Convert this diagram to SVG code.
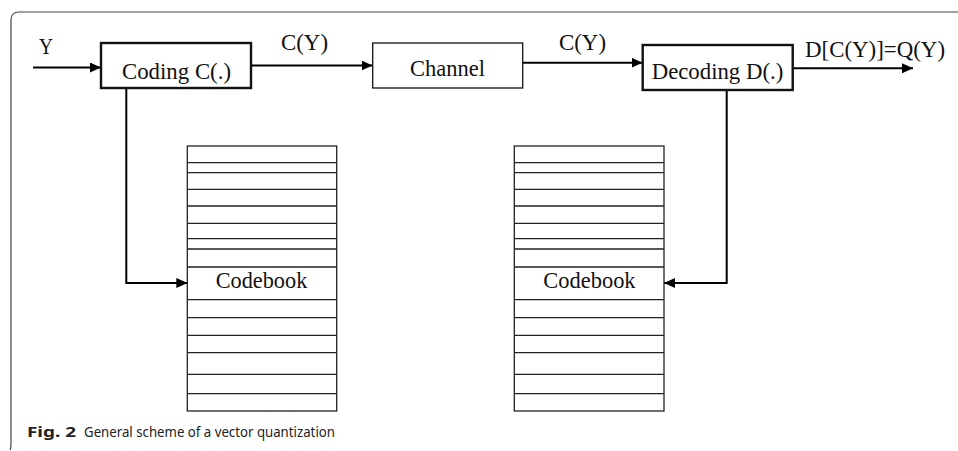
<svg xmlns="http://www.w3.org/2000/svg" width="958" height="451" viewBox="0 0 958 451">
<style>
.t{font-family:"Liberation Serif","Times New Roman",serif;font-size:24px;fill:#111}
.box{fill:#fff;stroke:#111}
.thick{stroke-width:2.4}
.thin{stroke-width:1.3}
.cb{fill:#fff;stroke:#222;stroke-width:1.3}
.row{stroke:#222;stroke-width:1.3}
.con{fill:none;stroke:#000;stroke-width:2}
.cap{font-family:"Noto Sans","Open Sans",sans-serif;font-size:15px;fill:#222}
</style>
<defs>
<marker id="ah" markerUnits="userSpaceOnUse" markerWidth="11" markerHeight="10" refX="11" refY="5" orient="auto">
<path d="M0,0 L11,5 L0,10 z" fill="#000"/>
</marker>
</defs>
<rect width="958" height="451" fill="#fff"/>
<path d="M10,450 Q11,448 11,444 L11,20 Q11,12 19,12 L958,12" fill="none" stroke="#444" stroke-width="1.2"/>

<g id="connectors">
<line class="con" x1="33" y1="67.5" x2="101" y2="67.5" marker-end="url(#ah)"/>
<line class="con" x1="251" y1="65.5" x2="372.5" y2="65.5" marker-end="url(#ah)"/>
<line class="con" x1="523" y1="62.7" x2="642.5" y2="62.7" marker-end="url(#ah)"/>
<line class="con" x1="793" y1="68.3" x2="913" y2="68.3" marker-end="url(#ah)"/>
<polyline class="con" points="126.3,88 126.3,283 187.3,283" marker-end="url(#ah)"/>
<polyline class="con" points="726.7,90 726.7,283 664,283" marker-end="url(#ah)"/>
</g>

<g id="label-y"><text class="t" x="39" y="54" textLength="14" lengthAdjust="spacingAndGlyphs">Y</text></g>
<g id="label-cy1"><text class="t" x="281" y="50" textLength="47" lengthAdjust="spacingAndGlyphs">C(Y)</text></g>
<g id="label-cy2"><text class="t" x="559" y="50" textLength="47" lengthAdjust="spacingAndGlyphs">C(Y)</text></g>
<g id="label-out"><text class="t" x="805" y="56.5" textLength="140" lengthAdjust="spacingAndGlyphs">D[C(Y)]=Q(Y)</text></g>

<g id="coding">
<rect class="box thick" x="101" y="43" width="150" height="45"/>
<text class="t" x="122" y="79" textLength="109" lengthAdjust="spacingAndGlyphs">Coding C(.)</text>
</g>
<g id="channel">
<rect class="box thin" x="372.7" y="43" width="150" height="45"/>
<text class="t" x="410" y="76" textLength="75" lengthAdjust="spacingAndGlyphs">Channel</text>
</g>
<g id="decoding">
<rect class="box thick" x="642.7" y="45" width="150" height="45"/>
<text class="t" x="651.7" y="79" textLength="131.6" lengthAdjust="spacingAndGlyphs">Decoding D(.)</text>
</g>

<g id="codebook1">
<rect class="cb" x="187.3" y="146" width="149.4" height="265"/>
<g class="row">
<line x1="187.3" x2="336.7" y1="162.7" y2="162.7"/>
<line x1="187.3" x2="336.7" y1="172.7" y2="172.7"/>
<line x1="187.3" x2="336.7" y1="189.3" y2="189.3"/>
<line x1="187.3" x2="336.7" y1="206" y2="206"/>
<line x1="187.3" x2="336.7" y1="223.3" y2="223.3"/>
<line x1="187.3" x2="336.7" y1="238.7" y2="238.7"/>
<line x1="187.3" x2="336.7" y1="249" y2="249"/>
<line x1="187.3" x2="336.7" y1="267" y2="267"/>
<line x1="187.3" x2="336.7" y1="299.7" y2="299.7"/>
<line x1="187.3" x2="336.7" y1="317.7" y2="317.7"/>
<line x1="187.3" x2="336.7" y1="335.3" y2="335.3"/>
<line x1="187.3" x2="336.7" y1="352.7" y2="352.7"/>
<line x1="187.3" x2="336.7" y1="374.3" y2="374.3"/>
<line x1="187.3" x2="336.7" y1="393.7" y2="393.7"/>
</g>
<text class="t" x="215.7" y="288.3" textLength="91.6" lengthAdjust="spacingAndGlyphs">Codebook</text>
</g>

<g id="codebook2">
<rect class="cb" x="514.3" y="146" width="149.7" height="265"/>
<g class="row">
<line x1="514.3" x2="664" y1="162.7" y2="162.7"/>
<line x1="514.3" x2="664" y1="172.7" y2="172.7"/>
<line x1="514.3" x2="664" y1="189.3" y2="189.3"/>
<line x1="514.3" x2="664" y1="206" y2="206"/>
<line x1="514.3" x2="664" y1="223.3" y2="223.3"/>
<line x1="514.3" x2="664" y1="238.7" y2="238.7"/>
<line x1="514.3" x2="664" y1="249" y2="249"/>
<line x1="514.3" x2="664" y1="267" y2="267"/>
<line x1="514.3" x2="664" y1="299.7" y2="299.7"/>
<line x1="514.3" x2="664" y1="317.7" y2="317.7"/>
<line x1="514.3" x2="664" y1="335.3" y2="335.3"/>
<line x1="514.3" x2="664" y1="352.7" y2="352.7"/>
<line x1="514.3" x2="664" y1="374.3" y2="374.3"/>
<line x1="514.3" x2="664" y1="393.7" y2="393.7"/>
</g>
<text class="t" x="543.3" y="288.3" textLength="92.3" lengthAdjust="spacingAndGlyphs">Codebook</text>
</g>

<g id="caption">
<text class="cap" x="27" y="436.5" font-weight="bold" textLength="49" lengthAdjust="spacingAndGlyphs">Fig. 2</text>
<text class="cap" x="84" y="436.5" textLength="251" lengthAdjust="spacingAndGlyphs">General scheme of a vector quantization</text>
</g>
</svg>
